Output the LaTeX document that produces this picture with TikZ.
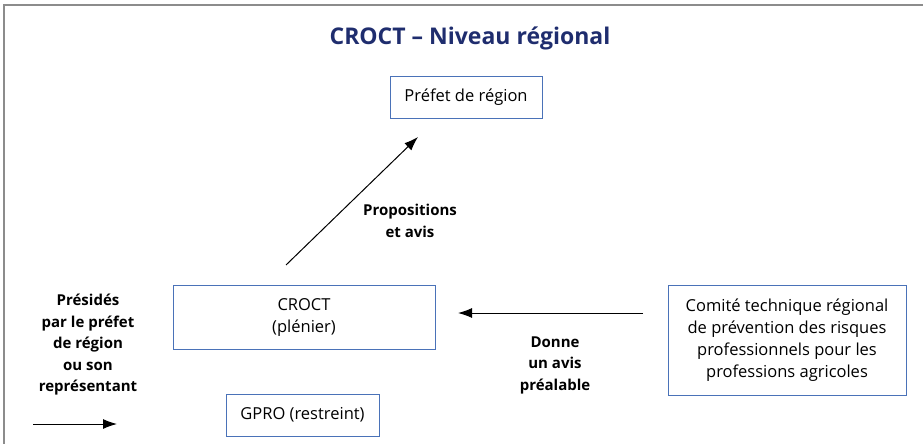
\documentclass[tikz,border=0pt]{standalone}
\usepackage{fontspec}
\setmainfont{Open Sans}
\usepackage{xcolor}
\definecolor{CroctNavy}{HTML}{1F2D6E}
\definecolor{CroctBlue}{HTML}{4A72B8}
\definecolor{FrameGray}{HTML}{8C8C8C}
\usepackage{tikz}
\usetikzlibrary{positioning,arrows.meta}

\begin{document}
\begin{tikzpicture}[x=1pt,y=-1pt,
    box/.style={draw=CroctBlue,line width=1pt,fill=white,align=center,inner sep=2pt,font=\fontsize{16.5}{22}\selectfont},
    lbl/.style={align=center,font=\bfseries\fontsize{15}{21.5}\selectfont},
    flow/.style={-{Latex[length=14pt,width=10pt]},line width=1pt}]
    \useasboundingbox (0,0) rectangle (923,444);
    % frame
    \draw[FrameGray,line width=1.6pt] (4,444) -- (4,5) -- (923,5);
    \node[text=CroctNavy,font=\bfseries\fontsize{23}{25}\selectfont] (title) at (470,38) {CROCT -- Niveau régional};
    % boxes
    \node[box,minimum width=152pt,minimum height=42pt] (prefet) at (466,97) {Préfet de région};
    \node[box,minimum width=262pt,minimum height=64pt] (croct) at (304,317) {CROCT\\(plénier)};
    \node[box,minimum width=153pt,minimum height=42pt] (gpro) at (302.5,415) {GPRO (restreint)};
    \node[box,minimum width=238pt,minimum height=110pt] (comite) at (787,340) {Comité technique régional\\de prévention des risques\\professionnels pour les\\professions agricoles};
    % labels
    \node[lbl] (propos) at (410,221) {Propositions\\et avis};
    \node[lbl] (donne) at (555,365) {Donne\\un avis\\préalable};
    \node[lbl] (presides) at (88,345) {Présidés\\par le préfet\\de région\\ou son\\représentant};
    % arrows
    \coordinate (up0) at (286,265);
    \coordinate (up1) at (418,137);
    \coordinate (av0) at (643,313);
    \coordinate (av1) at (458,313);
    \coordinate (pr0) at (33,424);
    \coordinate (pr1) at (117,424);
    \draw[flow] (up0) -- (up1);
    \draw[flow] (av0) -- (av1);
    \draw[flow] (pr0) -- (pr1);
  \end{tikzpicture}
\end{document}
